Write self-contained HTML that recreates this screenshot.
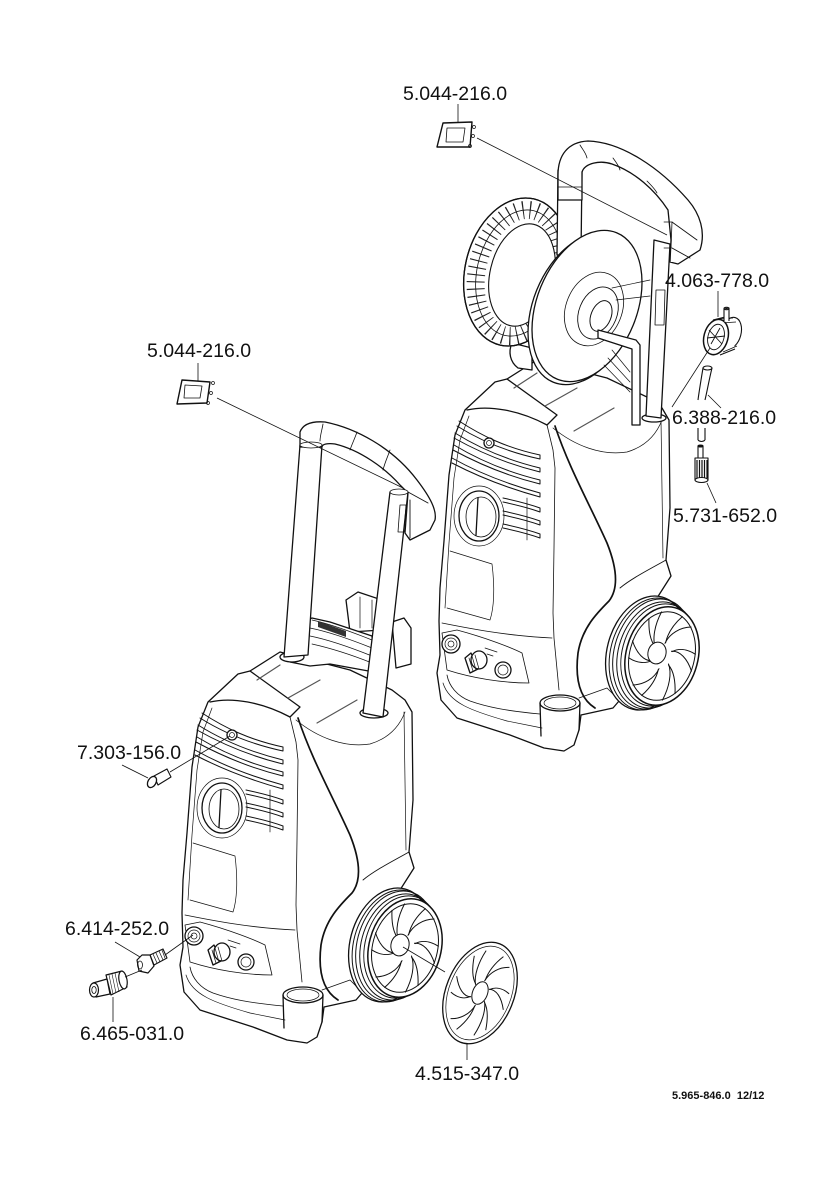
<!DOCTYPE html>
<html><head><meta charset="utf-8"><style>
html,body{margin:0;padding:0;background:#fff;}
svg{display:block;}
text{font-family:"Liberation Sans",Arial,sans-serif;fill:#111;}
</style></head><body>
<svg width="840" height="1192" viewBox="0 0 840 1192" xmlns="http://www.w3.org/2000/svg" xmlns:xlink="http://www.w3.org/1999/xlink">
<defs>
<path id="bl" vector-effect="non-scaling-stroke" d="M22,-14 C44,-20 70,-8 90,14 M24,14 C40,22 54,40 62,66"/>
<g id="body" fill="none" stroke="#111" stroke-width="1.3" stroke-linejoin="round" stroke-linecap="round">
 <path fill="#fff" d="M208,702 L238,674 L250,671 L280,652 L350,670 L392,690 L405,700 L412,712 L413,800 L409,852 L414,868 L400,890 L370,960 L362,993 L356,1000 L324,1007 L322,1022 L317,1037 L307,1043 L287,1040 L253,1027 L200,1010 L184,992 L180,965 L183,947 L182,913 L183,880 L187,833 L192,767 L198,727 Z"/>
 <path d="M250,671 L300,707 L290,717"/>
 <path d="M210,702 C232,697 262,702 290,717"/>
 <path stroke-width="0.8" d="M290,717 L296,742 L298,760 L297,840 L296,905 L297,930 L302,982"/>
 <path stroke-width="0.7" d="M212,708 L203,732 L197,770 L192,835 L188,900"/>
 <path stroke-width="1.7" d="M298,718 C312,760 332,795 350,835 C360,860 362,880 352,893 C340,905 325,920 321,945 C318,970 322,990 338,1000"/>
 <path stroke-width="0.7" d="M404,712 L406,850"/>
 <path stroke-width="0.9" d="M409,852 C395,860 375,870 363,880"/>
 <path stroke-width="0.7" d="M296,720 C318,738 345,748 370,744 C390,738 400,725 405,712"/>
 <path stroke="#555" stroke-width="1.2" d="M257,680 L280,665 M288,698 L320,680 M317,723 L357,700"/>
 <path stroke-width="0.7" d="M193,843 L235,856 C238,880 237,900 233,912 L190,900"/>
 <path stroke-width="0.8" d="M185,915 C210,920 250,928 295,930"/>
 <path stroke-width="0.8" d="M185,925 L200,922 C230,930 255,940 265,945 L272,975 C245,975 215,970 190,962 Z"/>
 <path stroke-width="0.8" d="M190,967 C192,978 200,988 213,993 C230,999 250,1003 283,1006"/>
 <path stroke-width="0.7" d="M186,975 C192,995 215,1003 250,1013 L285,1020"/>
 <path stroke-width="0.8" d="M322,990 L350,980 L363,993"/>
 <ellipse cx="303" cy="995" rx="20" ry="8" fill="#fff"/>
 <ellipse cx="303" cy="995" rx="16" ry="6" stroke-width="0.7"/>
 <path d="M283,995 L284,1028 M323,995 L322,1022"/>
 <circle cx="194" cy="936" r="9" fill="#fff"/>
 <circle cx="194" cy="936" r="6" stroke-width="0.7"/>
 <circle cx="194" cy="936" r="3" stroke-width="0.7"/>
 <path fill="#fff" d="M214,945 L208,950 L213,965 L221,961 Z"/>
 <ellipse cx="222" cy="952" rx="8" ry="9" fill="#fff"/>
 <path stroke-width="0.7" d="M212,950 L216,963 M215,948 L219,962 M218,947 L222,961"/>
 <circle cx="246" cy="962" r="8" fill="#fff"/>
 <circle cx="246" cy="962" r="5" stroke-width="0.7"/>
 <path stroke-width="0.7" d="M228,940 L240,944 M230,946 L236,948"/>
 <!-- vents -->
 <path stroke-width="1" d="M202,713 C225,728 250,740 283,747 L283,751 C250,744 224,733 200,718"/>
 <path stroke-width="1" d="M198,725 C222,740 250,752 283,760 L283,764 C250,756 222,744 197,730"/>
 <path stroke-width="1" d="M197,737 C222,752 250,764 283,772 L283,776 C250,768 222,756 196,742"/>
 <path stroke-width="1" d="M195,750 C220,764 250,776 283,785 L283,789 C250,780 220,768 195,755"/>
 <path stroke-width="1" d="M246,790 C260,793 272,796 283,800 L283,804 C272,800 260,797 246,794"/>
 <path stroke-width="1" d="M246,803 C260,806 272,809 283,813 L283,817 C272,813 260,810 246,807"/>
 <path stroke-width="1" d="M246,816 C260,819 272,822 283,826 L283,830 C272,826 260,823 246,820"/>
 <path stroke-width="0.7" d="M270,790 L270,832"/>
 <circle cx="232" cy="735" r="5" fill="#fff"/>
 <circle cx="232" cy="735" r="2.5" stroke-width="0.7"/>
 <!-- dial -->
 <ellipse cx="222" cy="808" rx="25" ry="30" stroke-width="0.7"/>
 <ellipse cx="222" cy="808" rx="20" ry="25" fill="#fff"/>
 <ellipse cx="224" cy="809" rx="15" ry="20" stroke-width="0.8"/>
 <path d="M221,790 L219,827"/>
 <!-- wheel -->
 <ellipse cx="390" cy="945" rx="40" ry="58" transform="rotate(15 390 945)" fill="#fff"/>
 <ellipse cx="393" cy="946" rx="39.5" ry="57" transform="rotate(15 393 946)" stroke-width="1"/>
 <ellipse cx="396" cy="946" rx="39" ry="56" transform="rotate(15 396 946)" stroke-width="1"/>
 <ellipse cx="399" cy="947" rx="38" ry="54" transform="rotate(15 399 947)" stroke-width="1"/>
 <ellipse cx="402" cy="947" rx="37" ry="52" transform="rotate(15 402 947)" stroke-width="1"/>
 <ellipse cx="405" cy="948" rx="36" ry="50" transform="rotate(15 405 948)" fill="#fff" stroke-width="1.5"/>
 <g transform="translate(405,948) rotate(15) scale(0.36,0.5)" stroke-width="1">
  <circle r="90" vector-effect="non-scaling-stroke"/>
  <use xlink:href="#bl"/><use xlink:href="#bl" transform="rotate(60)"/><use xlink:href="#bl" transform="rotate(120)"/>
  <use xlink:href="#bl" transform="rotate(180)"/><use xlink:href="#bl" transform="rotate(240)"/><use xlink:href="#bl" transform="rotate(300)"/>
 </g>
 <ellipse cx="400" cy="945" rx="9" ry="11" transform="rotate(15 400 945)" fill="#fff" stroke-width="1"/>
</g>
</defs>

<!-- LEFT MACHINE -->
<use xlink:href="#body"/>
<g fill="none" stroke="#111" stroke-width="1.3" stroke-linejoin="round" stroke-linecap="round">
 <path fill="#fff" d="M346,600 L358,592 L382,600 L382,630 L350,632 Z"/>
 <path stroke-width="0.7" d="M360,597 L360,628 M372,600 L372,628"/>
 <path fill="#fff" d="M392,622 L404,618 L411,628 L411,664 L396,668 Z"/>
 <path fill="#fff" d="M290,628 L312,618 L330,622 L372,636 L374,672 L330,664 L310,666 L290,662 Z"/>
 <path stroke-width="0.7" d="M312,620 C330,624 352,632 372,640 M310,628 C330,632 352,640 372,648 M310,636 C330,640 352,648 372,656 M312,644 C330,648 352,655 372,663"/>
 <path fill="#333" stroke="none" d="M318,621 L346,631 L346,637 L318,627 Z"/>
 <ellipse cx="292" cy="657" rx="12" ry="5" fill="#fff"/>
 <ellipse cx="374" cy="713" rx="14" ry="5" fill="#fff"/>
 <polygon fill="#fff" points="300,445 322,445 308,655 284,657"/>
 <polygon fill="#fff" points="390,492 408,492 383,717 363,713"/>
 <path fill="#fff" d="M300,447 L300,432 C303,424 312,421 325,422 C355,428 392,447 417,480 C430,497 437,510 435,520 L430,530 L410,540 L405,533 L408,493 L400,485 C385,468 360,450 335,444 C328,443 322,444 322,447 Z"/>
 <path stroke-width="0.8" d="M323,424 C322,430 320,436 320,441 M357,432 C355,438 352,444 350,450 M390,450 C388,456 385,462 383,470"/>
 <path stroke-width="0.9" d="M408,492 L428,503 M410,500 L410,538"/>
 <path stroke-width="0.8" d="M400,505 L406,505 L404,532 L398,532 Z"/>
 <ellipse cx="311" cy="445" rx="11" ry="3" fill="#fff" stroke-width="0.8"/>
 <ellipse cx="399" cy="492" rx="9" ry="3" fill="#fff" stroke-width="0.8"/>
</g>

<!-- RIGHT MACHINE -->
<use xlink:href="#body" transform="translate(257,-292)"/>
<g fill="none" stroke="#111" stroke-width="1.3" stroke-linejoin="round" stroke-linecap="round">
 <path fill="#fff" d="M512,343 C508,352 510,362 518,368 L532,370 L532,348 Z"/>
 <!-- rear reel -->
 <ellipse cx="517" cy="272" rx="52" ry="75" transform="rotate(13 517 272)" fill="#fff"/>
 <ellipse cx="519" cy="273" rx="42" ry="64" transform="rotate(13 519 273)" stroke-width="18" stroke="#222" stroke-dasharray="1.1 6" stroke-linecap="butt"/>
 <ellipse cx="519" cy="273" rx="42" ry="64" transform="rotate(13 519 273)" stroke-width="0.8"/>
 <ellipse cx="522" cy="275" rx="32" ry="52" transform="rotate(13 522 275)" fill="#fff" stroke-width="1.1"/>
 <ellipse cx="517" cy="272" rx="52" ry="75" transform="rotate(13 517 272)"/>
 <!-- right post base -->
 <ellipse cx="654" cy="418" rx="12" ry="4" fill="#fff"/>
 <!-- left post -->
 <polygon fill="#fff" points="558,170 582,170 581,255 557,255"/>
 <!-- right post (behind grip end) -->
 <polygon fill="#fff" points="654,240 670,244 661,418 646,416"/>
 <path stroke-width="0.8" d="M656,290 L665,290 L664,325 L655,325 Z"/>
 <!-- grip -->
 <path fill="#fff" d="M558,200 L558,175 C558,155 568,142 588,141 C622,142 660,168 688,200 C700,214 706,232 700,250 L678,264 L670,262 L671,240 L668,210 C655,190 635,172 612,164 C600,160 585,163 582,172 L582,200 Z"/>
 <path stroke-width="0.8" d="M580,145 C583,150 586,153 587,158 M613,158 C616,162 619,166 620,170 M647,181 C651,185 655,189 657,193 M558,187 L582,187"/>
 <path stroke-width="0.8" d="M664,222 L672,222 L671,248 L664,248"/>
 <path stroke-width="0.9" d="M672,222 L697,240 M672,248 L690,258"/>
 <!-- front disk -->
 <ellipse cx="583" cy="309" rx="50" ry="79" transform="rotate(22 583 309)" fill="#fff"/>
 <ellipse cx="587" cy="306" rx="50" ry="79" transform="rotate(22 587 306)" fill="#fff"/>
 <ellipse cx="594" cy="309" rx="28" ry="38" transform="rotate(22 594 309)" stroke-width="0.8"/>
 <ellipse cx="598" cy="313" rx="19" ry="27" transform="rotate(22 598 313)" stroke-width="0.9"/>
 <ellipse cx="601" cy="316" rx="10" ry="16" transform="rotate(22 601 316)" stroke-width="1"/>
 <path stroke-width="0.7" d="M612,288 L650,280 M616,300 L650,296"/>
 <!-- crank -->
 <path fill="#fff" d="M598,330 L636,340 L640,345 L640,425 L632,425 L632,349 L598,338 Z"/>
 <path stroke-width="0.7" d="M612,350 L630,372 M608,358 L630,382 M604,365 L630,392"/>
</g>

<!-- wheel cap -->
<g fill="none" stroke="#111" stroke-width="1.3">
 <g transform="translate(480,993) rotate(22)">
  <ellipse rx="34" ry="53" fill="#fff"/>
  <ellipse rx="31" ry="49" stroke-width="0.7"/>
  <g transform="scale(0.31,0.49)" stroke-width="1">
   <use xlink:href="#bl"/><use xlink:href="#bl" transform="rotate(60)"/><use xlink:href="#bl" transform="rotate(120)"/>
   <use xlink:href="#bl" transform="rotate(180)"/><use xlink:href="#bl" transform="rotate(240)"/><use xlink:href="#bl" transform="rotate(300)"/>
   <circle r="24" vector-effect="non-scaling-stroke" fill="#fff"/>
  </g>
 </g>
</g>

<!-- small parts -->
<g fill="none" stroke="#111" stroke-width="1.1" stroke-linejoin="round">
 <polygon points="443,123 472,122 470,147 437,147" stroke-width="1.4"/>
 <polygon points="447,128 465,128 463,142 446,142" stroke-width="0.8"/>
 <circle cx="474" cy="127" r="1.5" stroke-width="0.7"/><circle cx="473" cy="136" r="1.5" stroke-width="0.7"/><circle cx="470" cy="146" r="1.5" stroke-width="0.7"/>
 <polygon points="182,380 210,382 207,403 177,404" stroke-width="1.4"/>
 <polygon points="185,385 202,386 200,398 184,398" stroke-width="0.8"/>
 <circle cx="213" cy="383" r="1.5" stroke-width="0.7"/><circle cx="211" cy="393" r="1.5" stroke-width="0.7"/><circle cx="208" cy="403" r="1.5" stroke-width="0.7"/>
 <ellipse cx="731" cy="333" rx="10" ry="16" transform="rotate(15 731 333)" fill="#fff"/>
 <path fill="#fff" d="M713,320 L729,316 L735,349 L720,355 Z" stroke="none"/>
 <path d="M713,320 L729,316 M720,355 L735,349"/>
 <path stroke-width="0.7" d="M718,319 L733,318 M721,323 L736,322 M723,352 L737,346"/>
 <ellipse cx="716" cy="337" rx="12" ry="18" transform="rotate(15 716 337)" fill="#fff" stroke-width="1.5"/>
 <ellipse cx="716" cy="337" rx="8" ry="13" transform="rotate(15 716 337)" stroke-width="0.9"/>
 <path stroke-width="0.9" d="M709,330 L722,344 M711,344 L720,328 M707,338 L725,336"/>
 <path fill="#fff" d="M724,322 L724,309 L729,308 L729,321"/>
 <ellipse cx="726.5" cy="308.5" rx="2.5" ry="1.2"/>
 <path d="M703,368 C701,380 699,392 698,400 M712,368 C709,380 707,392 705,400"/>
 <ellipse cx="707.5" cy="368" rx="4.5" ry="2"/>
 <path d="M698,428 L698,440 M705,428 L705,440 M698,440 C700,442 703,442 705,440"/>
 <path fill="#fff" d="M698,458 L698,446 L703,446 L703,458"/>
 <ellipse cx="700.5" cy="446" rx="2.5" ry="1"/>
 <rect x="695" y="458" width="13" height="22" fill="#fff"/>
 <path stroke-width="1.2" d="M697,460 L697,478 M699.5,460 L699.5,478 M702,460 L702,478 M704.5,460 L704.5,478 M707,460 L707,478"/>
 <ellipse cx="701.5" cy="480" rx="6.5" ry="2.5" fill="#fff"/>
 <path fill="#fff" d="M154,776 L167,769 L171,777 L158,785 Z"/>
 <ellipse cx="152" cy="782" rx="4" ry="6" transform="rotate(30 152 782)" fill="#fff" stroke-width="1.3"/>
 <path fill="#fff" d="M150,955 L163,949 L167,958 L154,965 Z"/>
 <path stroke-width="0.7" d="M153,954 L157,963 M156,953 L160,962 M159,951 L163,960 M162,950 L165,958"/>
 <path fill="#fff" stroke-width="1.2" d="M137,960 L142,955 L150,955 L154,966 L148,973 L139,971 Z"/>
 <ellipse cx="140" cy="965" rx="2.5" ry="4" stroke-width="0.8"/>
 <path fill="#fff" stroke-width="1.2" d="M106,975 L122,971 L127,987 L111,995 Z"/>
 <ellipse cx="123" cy="980" rx="4" ry="9" transform="rotate(-10 123 980)" fill="#fff" stroke-width="1.2"/>
 <path stroke-width="0.6" d="M109,975 L113,994 M112,974 L116,993 M115,973 L119,992"/>
 <path fill="#fff" stroke-width="1.2" d="M93,983 L107,979 L110,994 L96,997 Z"/>
 <ellipse cx="94" cy="990" rx="4.5" ry="7" fill="#fff" stroke-width="1.2"/>
 <ellipse cx="94" cy="990" rx="2.2" ry="3.5" stroke-width="0.8"/>
</g>

<!-- leader lines -->
<g fill="none" stroke="#111" stroke-width="0.8">
 <path d="M458,104 L458,122 M477,138 L667,235"/>
 <path d="M198,363 L198,381 M217,398 L403,488"/>
 <path d="M718,291 L718,317 M710,348 L672,407"/>
 <path d="M708,395 L721,408"/>
 <path d="M707,483 L716,503"/>
 <path d="M122,765 L148,778 M170,772 L230,736"/>
 <path d="M115,942 L140,957 M165,955 L193,935"/>
 <path d="M113,997 L113,1022 M125,977 L142,970"/>
 <path d="M467,1043 L467,1060 M403,947 L445,972"/>
</g>

<g font-size="19.5">
 <text x="403" y="100">5.044-216.0</text>
 <text x="147" y="357">5.044-216.0</text>
 <text x="665" y="287">4.063-778.0</text>
 <text x="672" y="424">6.388-216.0</text>
 <text x="673" y="522">5.731-652.0</text>
 <text x="77" y="759">7.303-156.0</text>
 <text x="65" y="935">6.414-252.0</text>
 <text x="80" y="1040">6.465-031.0</text>
 <text x="415" y="1080">4.515-347.0</text>
</g>
<text x="672" y="1099" font-size="11" font-weight="bold" xml:space="preserve">5.965-846.0  12/12</text>
</svg>
</body></html>
